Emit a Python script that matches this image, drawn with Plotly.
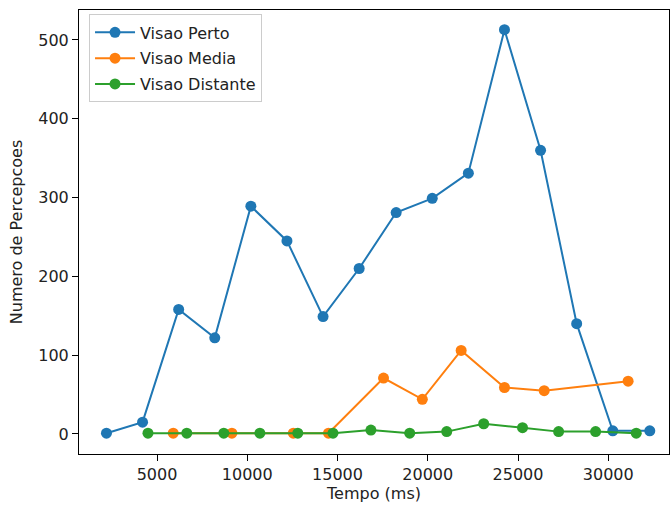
import plotly.graph_objects as go

# Data
perto_t = [2200, 4200, 6200, 8200, 10200, 12200, 14200, 16200, 18250, 20250, 22250, 24250, 26250, 28250, 30250, 32300]
perto_v = [1, 15, 158, 122, 289, 245, 149, 210, 281, 299, 331, 513, 360, 140, 4, 4]

media_t = [5900, 9150, 12550, 14500, 17550, 19700, 21850, 24250, 26450, 31100]
media_v = [1, 1, 1, 1, 71, 44, 106, 59, 55, 67]

dist_t = [4500, 6650, 8700, 10700, 12800, 14750, 16850, 19000, 21050, 23100, 25250, 27250, 29300, 31550]
dist_v = [1, 1, 1, 1, 1, 1, 5, 1, 3, 13, 8, 3, 3, 1]

x_ticks = [5000, 10000, 15000, 20000, 25000, 30000]
x_labels = ["5000", "10000", "15000", "20000", "25000", "30000"]
y_ticks = [0, 100, 200, 300, 400, 500]
y_labels = ["0", "100", "200", "300", "400", "500"]

FONT = "DejaVu Sans"

fig = go.Figure()
for name, t, v, c in [
    ("Visao Perto", perto_t, perto_v, "#1f77b4"),
    ("Visao Media", media_t, media_v, "#ff7f0e"),
    ("Visao Distante", dist_t, dist_v, "#2ca02c"),
]:
    fig.add_trace(go.Scatter(
        x=t, y=v, name=name, mode="lines+markers", legendgroup=name,
        line=dict(color=c, width=2),
        marker=dict(color=c, size=11),
    ))

axis_common = dict(
    showline=True, linecolor="black", linewidth=1, mirror=True,
    ticks="outside", ticklen=6, tickcolor="black", tickwidth=1,
    showgrid=False, zeroline=False,
    tickfont=dict(family=FONT, size=16, color="#222"),
)

fig.update_layout(
    width=670, height=506,
    margin=dict(l=79, r=1, t=10, b=52),
    plot_bgcolor="white", paper_bgcolor="white",
    font=dict(family=FONT, size=16, color="#222"),
    xaxis=dict(range=[679, 33365], tickvals=x_ticks, ticktext=x_labels,
               title=dict(text="Tempo (ms)", font=dict(family=FONT, size=16), standoff=4),
               **axis_common),
    yaxis=dict(range=[-25.4, 538], tickvals=y_ticks, ticktext=y_labels,
               title=dict(text="Numero de Percepcoes", font=dict(family=FONT, size=16), standoff=11),
               **axis_common),
    legend=dict(x=0.017, y=0.99, xanchor="left", yanchor="top",
                bgcolor="rgba(255,255,255,0.8)", bordercolor="#cccccc", borderwidth=1,
                font=dict(family=FONT, size=16, color="#222"),
                itemwidth=40, tracegroupgap=2),
    showlegend=True,
)

fig.write_html("out.html")
